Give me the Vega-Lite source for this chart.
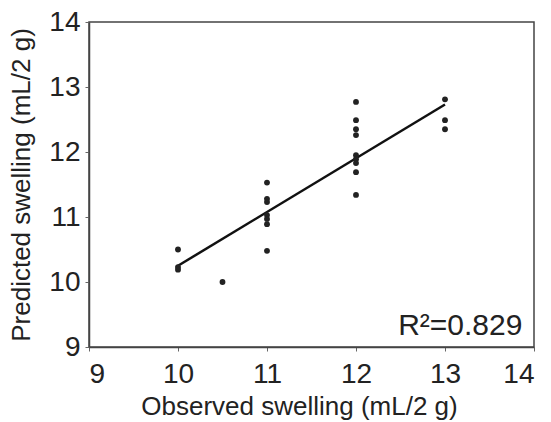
{
  "$schema": "https://vega.github.io/schema/vega-lite/v6.json",
  "width": 445,
  "height": 325,
  "autosize": {"type": "none"},
  "padding": {"left": 89, "top": 22, "right": 17, "bottom": 75},
  "background": "white",
  "config": {
    "font": "Liberation Sans",
    "view": {"stroke": "#444", "strokeWidth": 1.5},
    "axis": {
      "grid": false,
      "domainColor": "#444",
      "domainWidth": 1.5,
      "tickColor": "#666",
      "tickSize": 4,
      "labelFont": "Liberation Sans",
      "labelFontSize": 28,
      "labelColor": "#222",
      "titleFont": "Liberation Sans",
      "titleFontSize": 26,
      "titleFontWeight": "normal",
      "titleColor": "#222"
    }
  },
  "datasets": {
    "pts": [
      {"observed": 10, "predicted": 10.50},
      {"observed": 10, "predicted": 10.23},
      {"observed": 10, "predicted": 10.19},
      {"observed": 10.5, "predicted": 10.00},
      {"observed": 11, "predicted": 11.53},
      {"observed": 11, "predicted": 11.28},
      {"observed": 11, "predicted": 11.23},
      {"observed": 11, "predicted": 11.03},
      {"observed": 11, "predicted": 10.97},
      {"observed": 11, "predicted": 10.89},
      {"observed": 11, "predicted": 10.48},
      {"observed": 12, "predicted": 12.77},
      {"observed": 12, "predicted": 12.49},
      {"observed": 12, "predicted": 12.35},
      {"observed": 12, "predicted": 12.26},
      {"observed": 12, "predicted": 11.95},
      {"observed": 12, "predicted": 11.89},
      {"observed": 12, "predicted": 11.83},
      {"observed": 12, "predicted": 11.69},
      {"observed": 12, "predicted": 11.34},
      {"observed": 13, "predicted": 12.81},
      {"observed": 13, "predicted": 12.49},
      {"observed": 13, "predicted": 12.35}
    ],
    "fit": [
      {"observed": 10, "predicted": 10.25},
      {"observed": 13, "predicted": 12.73}
    ],
    "label": [
      {"observed": 13.87, "predicted": 9.185, "text": "R²=0.829"}
    ]
  },
  "layer": [
    {
      "data": {"name": "fit"},
      "mark": {"type": "line", "color": "#111", "strokeWidth": 2.5},
      "encoding": {
        "x": {
          "field": "observed", "type": "quantitative",
          "scale": {"domain": [9, 14], "nice": false, "zero": false},
          "axis": {"values": [9, 10, 11, 12, 13, 14], "format": "d", "title": "Observed swelling (mL/2 g)", "labelPadding": 9, "titlePadding": 5, "titleX": 210}
        },
        "y": {
          "field": "predicted", "type": "quantitative",
          "scale": {"domain": [9, 14], "nice": false, "zero": false},
          "axis": {"values": [9, 10, 11, 12, 13, 14], "format": "d", "title": "Predicted swelling (mL/2 g)", "labelPadding": 5, "titlePadding": 14}
        }
      }
    },
    {
      "data": {"name": "pts"},
      "mark": {"type": "circle", "color": "#222", "opacity": 1, "size": 34},
      "encoding": {
        "x": {"field": "observed", "type": "quantitative"},
        "y": {"field": "predicted", "type": "quantitative"}
      }
    },
    {
      "data": {"name": "label"},
      "mark": {"type": "text", "align": "right", "baseline": "alphabetic", "fontSize": 30, "color": "#222", "font": "Liberation Sans"},
      "encoding": {
        "x": {"field": "observed", "type": "quantitative"},
        "y": {"field": "predicted", "type": "quantitative"},
        "text": {"field": "text"}
      }
    }
  ]
}
